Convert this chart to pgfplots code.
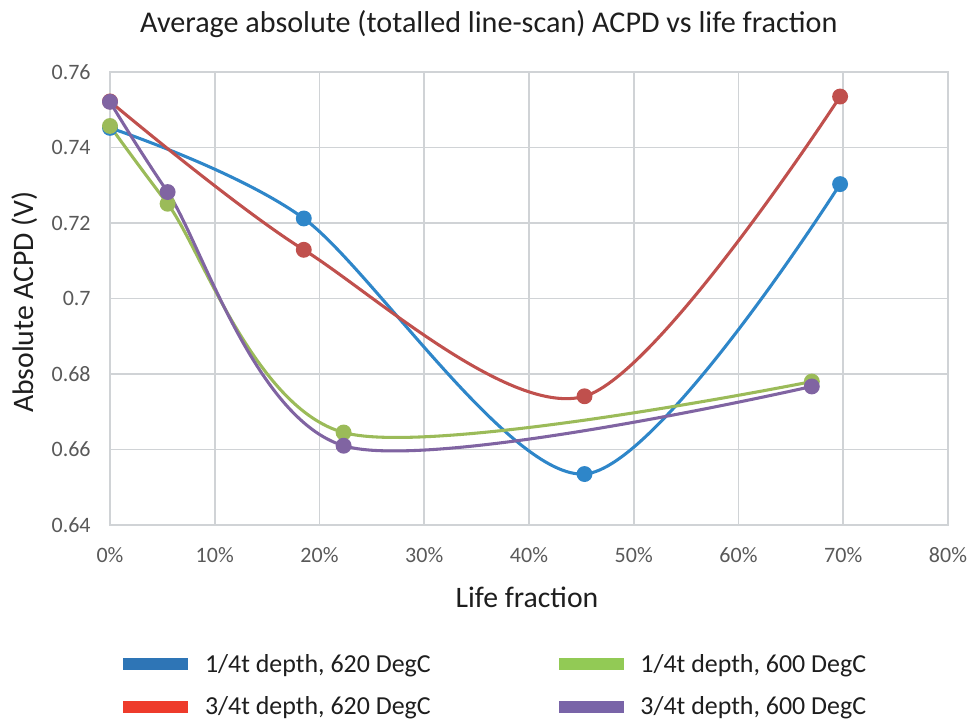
\documentclass[border=0pt]{standalone}
\usepackage{fontspec}
\setmainfont{Carlito}
\usepackage{pgfplots}
\pgfplotsset{compat=1.18}
\definecolor{cblue}{HTML}{2E86C9}
\definecolor{cred}{HTML}{C0504D}
\definecolor{cgreen}{HTML}{9BBB59}
\definecolor{cpurple}{HTML}{8064A2}
\definecolor{lblue}{HTML}{2E75B6}
\definecolor{lred}{HTML}{EE3B2B}
\definecolor{lgreen}{HTML}{92CA55}
\definecolor{lpurple}{HTML}{7964A8}
\definecolor{gridc}{HTML}{D0D3D6}
\definecolor{tickc}{HTML}{595959}
\definecolor{txtc}{HTML}{1E1E1E}
\begin{document}
\begin{tikzpicture}
\useasboundingbox (-82.5pt,-146.25pt) rectangle (644.25pt,393.75pt);
\begin{axis}[
  scale only axis, width=628.5pt, height=339.75pt,
  xmin=0, xmax=80, ymin=0.64, ymax=0.76,
  xtick={0,10,...,80},
  xticklabels={0\%,10\%,20\%,30\%,40\%,50\%,60\%,70\%,80\%},
  ytick={0.64,0.66,0.68,0.70,0.72,0.74,0.76},
  yticklabels={0.64,0.66,0.68,0.7,0.72,0.74,0.76},
  grid=major, grid style={draw=gridc, line width=1.2pt},
  axis line style={draw=gridc, line width=1.2pt},
  major tick length=0pt,
  ticklabel style={font=\fontsize{16.5}{19}\selectfont, text=tickc},
  yticklabel style={xshift=-11pt},
  xticklabel style={yshift=-13pt},
  title={Average absolute (totalled line-scan) ACPD vs life fraction},
  title style={at={(0.452,1.088)}, anchor=center, font=\fontsize{22.6}{26}\selectfont, text=txtc},
  xlabel={Life fraction},
  xlabel style={at={(0.4976,-0.159)}, anchor=center, font=\fontsize{22.3}{26}\selectfont, text=txtc},
  ylabel={Absolute ACPD (V)},
  ylabel style={at={(-0.1014,0.492)}, anchor=center, font=\fontsize{22.3}{26}\selectfont, text=txtc},
  legend columns=2,
  legend cell align=left,
  legend style={at={(0.0156,-0.279)}, anchor=north west, draw=none, fill=none,
    inner sep=0pt, font=\fontsize{19.45}{23}\selectfont, text=txtc, row sep=12.75pt,
    /tikz/every odd column/.append style={column sep=10.5pt},
    /tikz/every even column/.append style={column sep=94pt}},
  legend image code/.code={\fill[#1, draw=none] (0pt,-4.5pt) rectangle (48.75pt,4.5pt);},
  every axis plot/.append style={line width=2.3pt, smooth, tension=0.5, mark=*, mark size=4.8pt},
]
\addplot[cblue, mark options={fill=cblue, draw=cblue}, forget plot] coordinates {(0,0.7452) (18.5,0.7212) (45.3,0.6535) (69.7,0.7303)};
\addplot[cred, mark options={fill=cred, draw=cred}, forget plot] coordinates {(0,0.7522) (18.5,0.7129) (45.3,0.6741) (69.7,0.7535)};
\addplot[cgreen, mark options={fill=cgreen, draw=cgreen}, forget plot] coordinates {(0,0.7457) (5.5,0.7251) (22.3,0.6645) (67.0,0.6780)};
\addplot[cpurple, mark options={fill=cpurple, draw=cpurple}, forget plot] coordinates {(0,0.7521) (5.5,0.7282) (22.3,0.6610) (67.0,0.6767)};
\addlegendimage{fill=lblue}\addlegendentry{1/4t depth, 620 DegC}
\addlegendimage{fill=lgreen}\addlegendentry{1/4t depth, 600 DegC}
\addlegendimage{fill=lred}\addlegendentry{3/4t depth, 620 DegC}
\addlegendimage{fill=lpurple}\addlegendentry{3/4t depth, 600 DegC}
\end{axis}
\end{tikzpicture}
\end{document}
